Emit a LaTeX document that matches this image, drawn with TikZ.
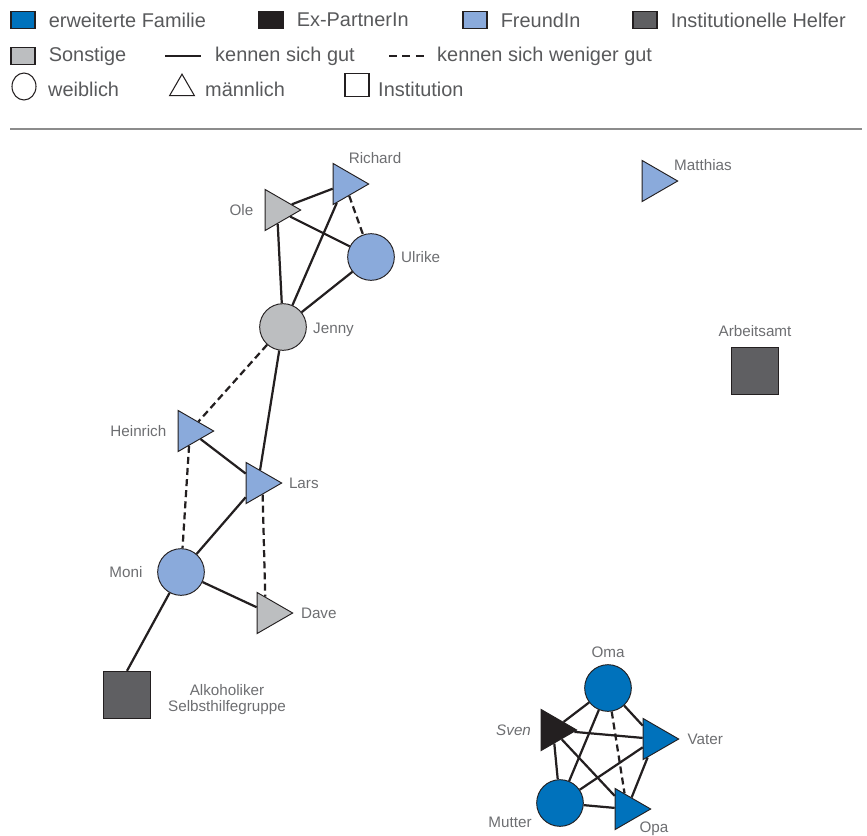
\documentclass[tikz,border=0pt]{standalone}
\usepackage{fontspec}
\setmainfont{Liberation Sans}
\usepackage{tikz}
\usetikzlibrary{shapes.geometric,positioning}

\definecolor{familie}{HTML}{0072BC}
\definecolor{expartner}{HTML}{231F20}
\definecolor{freund}{HTML}{8AAADB}
\definecolor{helfer}{HTML}{5F5F62}
\definecolor{sonstige}{HTML}{BCBEC0}
\definecolor{schrift}{HTML}{6D6E71}
\definecolor{legschrift}{HTML}{58595B}
\definecolor{trenner}{HTML}{8C8C8C}

\begin{document}
\begin{tikzpicture}[x=0.03cm,y=-0.03cm,node distance=0.15cm]
	\tikzstyle{frau}=[circle,draw=expartner,line width=0.8pt,minimum size=1.4cm,inner sep=0pt]
	\tikzstyle{mann}=[regular polygon,regular polygon sides=3,shape border rotate=-90,draw=expartner,line width=0.8pt,minimum size=1.42cm,inner sep=0pt]
	\tikzstyle{inst}=[rectangle,draw=expartner,line width=0.8pt,minimum size=1.42cm,inner sep=0pt]
	\tikzstyle{beschr}=[text=schrift,font=\fontsize{13}{13.6}\selectfont,inner sep=1pt]
	\tikzstyle{gut}=[draw=expartner,line width=1.9pt]
	\tikzstyle{wenig}=[gut,dash pattern=on 6pt off 3.5pt]
	\tikzstyle{leg}=[text=legschrift,font=\fontsize{17}{19}\selectfont,anchor=west,inner sep=0pt]
	\tikzstyle{legbox}=[rectangle,draw=expartner,line width=1pt,minimum width=0.72cm,minimum height=0.5cm,inner sep=0pt]

	\useasboundingbox (0,0) rectangle (867,835);

	% Legende
	\node[legbox,fill=familie] (lfam) at (23,20) {};
	\node[leg,right=0.39cm of lfam] (tfam) {erweiterte Familie};
	\node[legbox,fill=expartner] (lex) at (271,20) {};
	\node[leg,right=0.39cm of lex] (tex) {Ex-PartnerIn};
	\node[legbox,fill=freund] (lfreund) at (475,20) {};
	\node[leg,right=0.39cm of lfreund] (tfreund) {FreundIn};
	\node[legbox,fill=helfer] (lhelfer) at (645,20) {};
	\node[leg,right=0.39cm of lhelfer] (thelfer) {Institutionelle Helfer};

	\node[legbox,fill=sonstige] (lsonst) at (23,56) {};
	\node[leg,right=0.39cm of lsonst] (tsonst) {Sonstige};
	\coordinate (gutA) at (165,56);
	\coordinate (gutB) at (201,56);
	\draw[gut] (gutA) -- (gutB);
	\node[leg,right=0.42cm of gutB] (tgut) {kennen sich gut};
	\coordinate (wenigA) at (389,56);
	\coordinate (wenigB) at (424,56);
	\draw[gut,dash pattern=on 6.5pt off 5pt] (wenigA) -- (wenigB);
	\node[leg,right=0.39cm of wenigB] (twenig) {kennen sich weniger gut};

	\node[ellipse,draw=expartner,line width=0.9pt,minimum width=0.72cm,minimum height=0.81cm,inner sep=0pt] (lw) at (24,86.5) {};
	\node[leg] (tw) at (48,89) {weiblich};
	\node[regular polygon,regular polygon sides=3,draw=expartner,line width=0.9pt,minimum size=0.86cm,inner sep=0pt] (lm) at (182,88.5) {};
	\node[leg] (tm) at (205,89) {männlich};
	\node[rectangle,draw=expartner,line width=0.9pt,minimum width=0.72cm,minimum height=0.69cm,inner sep=0pt] (li) at (357,85) {};
	\node[leg] (ti) at (378,89) {Institution};

	\coordinate (trennA) at (10,129);
	\coordinate (trennB) at (862,129);
	\draw[trenner,line width=0.9pt] (trennA) -- (trennB);

	% Personen
	\node[mann,fill=freund] (richard) at (345,184) {};
	\node[mann,fill=sonstige] (ole) at (277,210) {};
	\node[frau,fill=freund] (ulrike) at (371,257) {};
	\node[frau,fill=sonstige] (jenny) at (283,327) {};
	\node[mann,fill=freund] (matthias) at (654,181) {};
	\node[inst,fill=helfer] (arbeitsamt) at (755,371) {};
	\node[mann,fill=freund] (heinrich) at (190,431) {};
	\node[mann,fill=freund] (lars) at (258,483) {};
	\node[frau,fill=freund] (moni) at (181,572) {};
	\node[mann,fill=sonstige] (dave) at (269,613) {};
	\node[inst,fill=helfer] (ash) at (127,695) {};
	\node[frau,fill=familie] (oma) at (608,688) {};
	\node[mann,fill=expartner] (sven) at (553,730) {};
	\node[mann,fill=familie] (vater) at (655,739) {};
	\node[frau,fill=familie] (mutter) at (560,803) {};
	\node[mann,fill=familie] (opa) at (627,809) {};

	% Namen
	\node[beschr] (richardL) at (375,158) {Richard};
	\node[beschr,left=0.3cm of ole] (oleL) {Ole};
	\node[beschr,right=0.15cm of ulrike] (ulrikeL) {Ulrike};
	\node[beschr,right=0.15cm of jenny,yshift=-2pt] (jennyL) {Jenny};
	\node[beschr] (matthiasL) at (703,165) {Matthias};
	\node[beschr,above=0.27cm of arbeitsamt] (arbeitsamtL) {Arbeitsamt};
	\node[beschr,left=0.3cm of heinrich] (heinrichL) {Heinrich};
	\node[beschr,right=0.15cm of lars] (larsL) {Lars};
	\node[beschr,left=0.4cm of moni] (moniL) {Moni};
	\node[beschr,right=0.18cm of dave] (daveL) {Dave};
	\node[beschr,align=center] (ashL) at (227,700) {Alkoholiker\\Selbsthilfegruppe};
	\node[beschr,above=0.15cm of oma] (omaL) {Oma};
	\node[beschr,left=0.25cm of sven] (svenL) {\textit{Sven}};
	\node[beschr,right=0.2cm of vater] (vaterL) {Vater};
	\node[beschr] (mutterL) at (510,822) {Mutter};
	\node[beschr] (opaL) at (654,829) {Opa};

	% Beziehungen
	\path[gut]
	(ole) edge (richard)
		edge (ulrike)
		edge (jenny)
	(richard) edge (jenny)
	(ulrike) edge (jenny)
	(jenny) edge (lars)
	(heinrich) edge (lars)
	(lars) edge (moni)
	(moni) edge (dave)
		edge (ash.north);
	\path[wenig]
	(richard) edge (ulrike)
	(jenny) edge (heinrich)
	(heinrich) edge (moni)
	(lars.-68) edge (dave.103);

	\path[gut]
	(oma) edge (sven)
		edge (vater)
		edge (mutter)
	(sven) edge (vater)
		edge (mutter)
		edge (opa)
	(mutter) edge (vater)
		edge (opa)
	(vater) edge (opa);
	\path[wenig] (oma) edge (opa);
\end{tikzpicture}
\end{document}
